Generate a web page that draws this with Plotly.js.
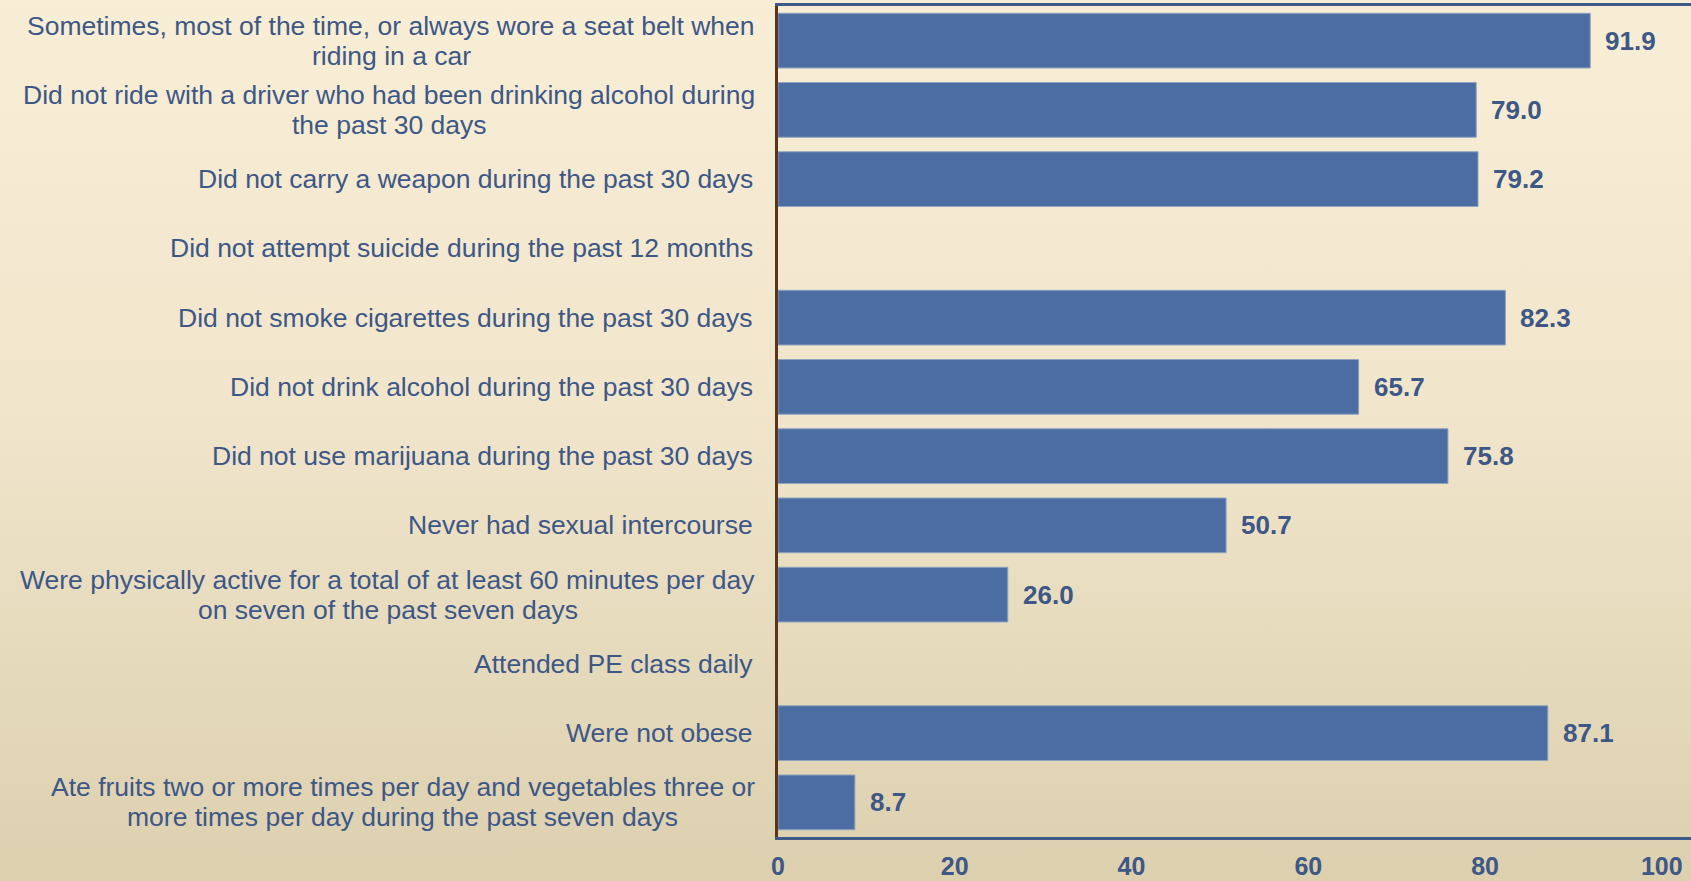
<!DOCTYPE html>
<html>
<head>
<meta charset="utf-8">
<script src="https://cdn.plot.ly/plotly-3.0.1.min.js"></script>
<style>
  html, body { margin: 0; padding: 0; }
  body { width: 1691px; height: 881px; background: linear-gradient(to bottom, #f8eed6 0%, #f1e6cc 45%, #dcd0af 100%); }
  #chart { width: 1691px; height: 881px; }
</style>
</head>
<body>
<div id="chart"></div>
<script>
const categories = [
  "Sometimes, most of the time, or always wore a seat belt when<br>riding in a car",
  "Did not ride with a driver who had been drinking alcohol during<br>the past 30 days",
  "Did not carry a weapon during the past 30 days",
  "Did not attempt suicide during the past 12 months",
  "Did not smoke cigarettes during the past 30 days",
  "Did not drink alcohol during the past 30 days",
  "Did not use marijuana during the past 30 days",
  "Never had sexual intercourse",
  "Were physically active for a total of at least 60 minutes per day<br>on seven of the past seven days",
  "Attended PE class daily",
  "Were not obese",
  "Ate fruits two or more times per day and vegetables three or<br>more times per day during the past seven days"
];
const percents = [91.9, 79.0, 79.2, null, 82.3, 65.7, 75.8, 50.7, 26.0, null, 87.1, 8.7];
const xTickValues = [0, 20, 40, 60, 80, 100];
const xTickLabels = ["0", "20", "40", "60", "80", "100"];

const textColor = "#3d5786";
const fontFam = "'Liberation Sans', Arial, sans-serif";
const labelSize = 26.5;

const ctx = document.createElement("canvas").getContext("2d");
ctx.font = labelSize + "px 'Liberation Sans'";

const annotations = [];
categories.forEach((c, i) => {
  const lines = c.split("<br>");
  if (lines.length === 1) {
    annotations.push({
      xref: "paper", yref: "y", x: 0, y: c, xanchor: "right", yanchor: "middle",
      xshift: -23, text: c, showarrow: false,
      font: { family: fontFam, size: labelSize, color: textColor }
    });
  } else {
    const widths = lines.map(l => ctx.measureText(l).width);
    const blockW = Math.max(...widths);
    lines.forEach((l, k) => {
      annotations.push({
        xref: "paper", yref: "y", x: 0, y: c, xanchor: "center", yanchor: "middle",
        xshift: -23 - blockW / 2, yshift: (k === 0 ? 15 : -15), text: l, showarrow: false,
        font: { family: fontFam, size: labelSize, color: textColor }
      });
    });
  }
  if (percents[i] !== null) {
    annotations.push({
      xref: "x", yref: "y", x: percents[i], y: c, xanchor: "left", yanchor: "middle",
      xshift: 13, text: "<b>" + percents[i].toFixed(1) + "</b>", showarrow: false,
      font: { family: fontFam, size: 26, color: textColor }
    });
  }
});

const trace = {
  type: "bar",
  orientation: "h",
  x: percents,
  y: categories,
  marker: { color: "#4b6da2", line: { color: "#8ea3c2", width: 1 } },
  hoverinfo: "x+y"
};

const layout = {
  width: 1691, height: 881,
  margin: { l: 778, r: 0, t: 6, b: 44 },
  paper_bgcolor: "rgba(0,0,0,0)",
  plot_bgcolor: "rgba(0,0,0,0)",
  showlegend: false,
  bargap: 0.21,
  font: { family: fontFam, color: textColor },
  xaxis: {
    range: [0, 103.3],
    tickvals: xTickValues,
    ticktext: xTickLabels,
    showgrid: false, zeroline: false,
    showline: true, mirror: true, linecolor: "#3e5a88", linewidth: 3,
    ticks: "", ticklabelstandoff: 5,
    tickfont: { family: fontFam, size: 25, color: textColor, weight: "bold" }
  },
  yaxis: {
    type: "category",
    categoryorder: "array", categoryarray: categories,
    autorange: "reversed",
    showticklabels: false, showgrid: false, zeroline: false,
    showline: true, linecolor: "#5a3519", linewidth: 3, ticks: ""
  },
  annotations: annotations
};

Plotly.newPlot("chart", [trace], layout, { displayModeBar: false, staticPlot: true });
</script>
</body>
</html>
